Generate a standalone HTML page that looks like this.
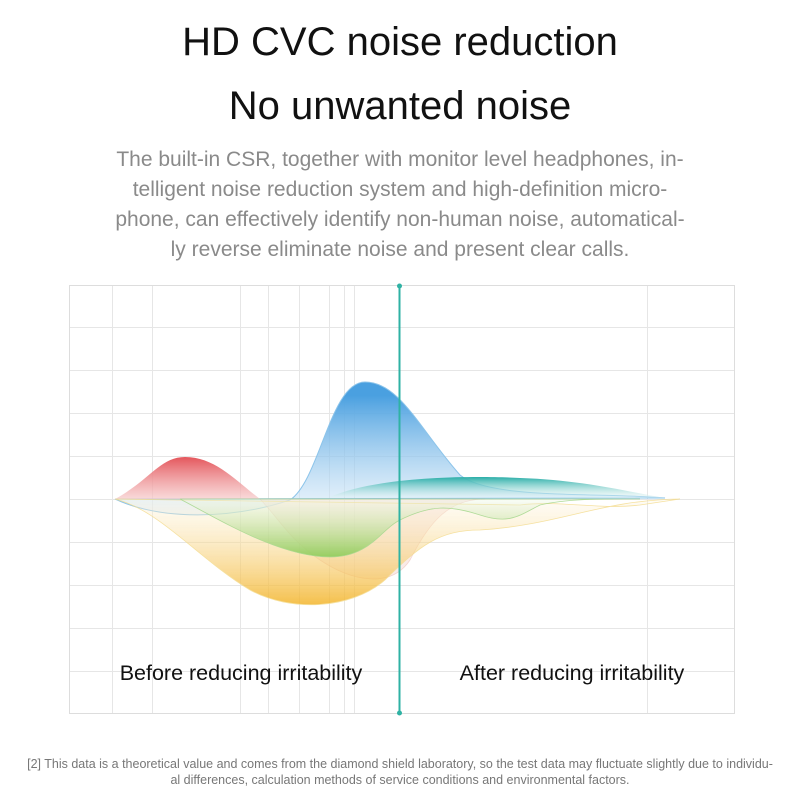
<!DOCTYPE html>
<html><head><meta charset="utf-8"><style>
body{margin:0;width:800px;height:800px;background:#fff;font-family:"Liberation Sans",sans-serif;overflow:hidden;position:relative}
.t{position:absolute;left:0;width:800px;text-align:center;color:#111}
</style></head><body>
<div class="t" style="top:20px;font-size:40px;">HD CVC noise reduction</div>
<div class="t" style="top:84px;font-size:40px;">No unwanted noise</div>
<div class="t" style="top:145px;font-size:21px;line-height:30px;color:#8a8a8a;">The built-in CSR, together with monitor level headphones, in-<br>telligent noise reduction system and high-definition micro-<br>phone, can effectively identify non-human noise, automatical-<br>ly reverse eliminate noise and present clear calls.</div>
<svg style="position:absolute;left:0;top:0" width="800" height="800">
<defs>
<linearGradient id="r" x1="0" y1="0" x2="0" y2="1"><stop offset="0" stop-color="#e4565c"/><stop offset="1" stop-color="#f6c9c9" stop-opacity=".7"/></linearGradient>
<linearGradient id="b" x1="0" y1="0" x2="0" y2="1"><stop offset="0.1" stop-color="#4aa0e0"/><stop offset="1" stop-color="#dcecf9" stop-opacity=".5"/></linearGradient>
<linearGradient id="c" x1="0" y1="0" x2="0" y2="1"><stop offset="0" stop-color="#2aaea8"/><stop offset="1" stop-color="#e8f6f6" stop-opacity=".4"/></linearGradient>
<linearGradient id="g" x1="0" y1="0" x2="0" y2="1"><stop offset="0" stop-color="#eef6e4" stop-opacity=".4"/><stop offset="1" stop-color="#8ccc5a"/></linearGradient>
<linearGradient id="y" x1="0" y1="0" x2="0" y2="1"><stop offset="0" stop-color="#fdf6e4" stop-opacity=".4"/><stop offset="1" stop-color="#f3b52c"/></linearGradient>
</defs>
<rect x="69.5" y="285.5" width="665" height="428" fill="none" stroke="#ddd"/>
<g stroke="#e6e6e6" stroke-width="1">
<line x1="70" x2="734" y1="327.5" y2="327.5"/><line x1="70" x2="734" y1="370.5" y2="370.5"/><line x1="70" x2="734" y1="413.5" y2="413.5"/><line x1="70" x2="734" y1="456.5" y2="456.5"/><line x1="70" x2="734" y1="499.5" y2="499.5"/><line x1="70" x2="734" y1="542.5" y2="542.5"/><line x1="70" x2="734" y1="585.5" y2="585.5"/><line x1="70" x2="734" y1="628.5" y2="628.5"/><line x1="70" x2="734" y1="671.5" y2="671.5"/>
<line x1="112.5" x2="112.5" y1="286" y2="713"/><line x1="152.5" x2="152.5" y1="286" y2="713"/><line x1="240.5" x2="240.5" y1="286" y2="713"/><line x1="268.5" x2="268.5" y1="286" y2="713"/><line x1="299.5" x2="299.5" y1="286" y2="713"/><line x1="329.5" x2="329.5" y1="286" y2="713"/><line x1="344.5" x2="344.5" y1="286" y2="713"/><line x1="354.5" x2="354.5" y1="286" y2="713"/><line x1="647.5" x2="647.5" y1="286" y2="713"/>
</g>
<path d="M115 499 C160 520 230 520 290 500 C320 480 330 382 365 382 C400 382 420 430 460 475 C490 500 600 492 665 498 Z" fill="url(#b)" stroke="#8cc4ea" stroke-width="1"/>
<path d="M115 499 C150 480 160 457 185 457 C215 457 235 480 260 499 Z" fill="url(#r)"/>
<path d="M260 499 L485 499 C450 499 430 520 410 560 C390 590 350 580 320 560 C290 540 280 520 260 499 Z" fill="#f5d9d2" opacity=".5" stroke="#e8a8a0" stroke-width=".8"/>
<path d="M330 497 C380 475 480 476 520 478 C580 480 620 490 665 498 Z" fill="url(#c)"/>
<path d="M115 499 C160 510 200 560 250 590 C290 612 350 610 385 580 C420 545 440 530 480 530 C560 525 600 500 680 499 L640 505 C600 510 560 500 520 505 Z" fill="url(#y)" opacity=".85" stroke="#f4dc90" stroke-width=".8"/>
<path d="M180 499 C220 520 280 557 330 557 C370 557 380 530 400 520 C430 505 450 505 480 515 C510 525 520 515 540 505 C570 498 610 499 640 499 L485 499 Z" fill="url(#g)" opacity=".9" stroke="#a8d890" stroke-width=".8"/>
<line x1="399.5" x2="399.5" y1="286" y2="713" stroke="#2fb2a4" stroke-width="2"/>
<circle cx="399.5" cy="286" r="2.5" fill="#2fb2a4"/><circle cx="399.5" cy="713" r="2.5" fill="#2fb2a4"/>
<text x="241" y="680" font-size="21.5" text-anchor="middle" fill="#111" font-family="Liberation Sans">Before reducing irritability</text>
<text x="572" y="680" font-size="21.5" text-anchor="middle" fill="#111" font-family="Liberation Sans">After reducing irritability</text>
</svg>
<div class="t" style="top:756px;font-size:12.5px;line-height:16px;color:#777;">[2] This data is a theoretical value and comes from the diamond shield laboratory, so the test data may fluctuate slightly due to individu-<br>al differences, calculation methods of service conditions and environmental factors.</div>
</body></html>
